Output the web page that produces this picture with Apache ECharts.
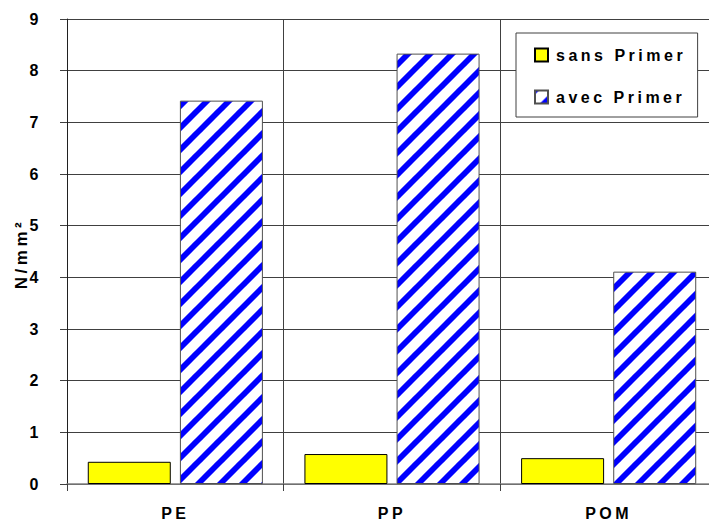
<!DOCTYPE html>
<html>
<head>
<meta charset="utf-8">
<script src="https://cdn.jsdelivr.net/npm/echarts@6/dist/echarts.min.js"></script>
<style>
  html, body { margin: 0; padding: 0; background: #fff; }
  #chart { width: 709px; height: 524px; }
  #chart svg text { letter-spacing: 3.5px; }
</style>
</head>
<body>
<div id="chart"></div>
<script>
const categories = ['PE', 'PP', 'POM'];
const sansPrimer = [0.43, 0.58, 0.50];
const avecPrimer = [7.42, 8.33, 4.11];
const seriesNames = ['sans Primer', 'avec Primer'];
const yAxisName = 'N/mm²';
const yMin = 0, yMax = 9, yInterval = 1;

function makeStripe() {
  const s = 22;
  const c = document.createElement('canvas');
  c.width = s; c.height = s;
  const ctx = c.getContext('2d');
  ctx.fillStyle = '#ffffff';
  ctx.fillRect(0, 0, s, s);
  ctx.strokeStyle = '#0000ff';
  ctx.lineWidth = 5.8;
  for (let k = -1; k <= 1; k++) {
    ctx.beginPath();
    ctx.moveTo(k * s - 2, s + 2);
    ctx.lineTo(k * s + s + 2, -2);
    ctx.stroke();
  }
  return c;
}
const stripe = makeStripe();

const chart = echarts.init(document.getElementById('chart'), null, { renderer: 'svg', width: 709, height: 524 });
const font = '"Liberation Sans", Arial, sans-serif';
chart.setOption({
  animation: false,
  backgroundColor: '#ffffff',
  grid: { left: 67, top: 19, width: 650, bottom: 40, containLabel: false, outerBoundsMode: 'none' },
  legend: {
    orient: 'vertical',
    left: 516, top: 33,
    padding: [14, 50, 12, 18],
    itemWidth: 13, itemHeight: 13,
    itemGap: 26,
    backgroundColor: '#ffffff',
    borderColor: '#404040', borderWidth: 1,
    icon: 'rect',
    textStyle: { fontFamily: font, fontWeight: 'bold', fontSize: 16, color: '#000', padding: [0, 0, 0, 3] },
    data: seriesNames
  },
  xAxis: {
    type: 'category',
    data: categories,
    axisLine: { show: true, lineStyle: { color: '#808080', width: 1.5 } },
    axisTick: { show: true, length: 7, lineStyle: { color: '#404040' } },
    splitLine: { show: true, interval: 0, lineStyle: { color: '#404040', width: 1 } },
    axisLabel: { fontFamily: font, fontWeight: 'bold', fontSize: 16, color: '#000', margin: 21 }
  },
  yAxis: {
    type: 'value',
    min: yMin, max: yMax, interval: yInterval,
    axisLine: { show: true, lineStyle: { color: '#202020', width: 1 } },
    axisTick: { show: true, length: 7, lineStyle: { color: '#404040' } },
    splitLine: { show: true, lineStyle: { color: '#404040', width: 1 } },
    axisLabel: { fontFamily: font, fontWeight: 'bold', fontSize: 16, color: '#000', margin: 25 }
  },
  graphic: [{
    type: 'text',
    x: 21, y: 254,
    rotation: Math.PI / 2,
    style: {
      text: yAxisName,
      font: 'bold 17px ' + font,
      fill: '#000',
      align: 'center',
      verticalAlign: 'middle'
    }
  }],
  series: [
    {
      name: seriesNames[0],
      type: 'bar',
      data: sansPrimer,
      barWidth: 83,
      barGap: '11%',
      itemStyle: { color: '#ffff00', borderColor: '#000000', borderWidth: 1 }
    },
    {
      name: seriesNames[1],
      type: 'bar',
      data: avecPrimer,
      barWidth: 83,
      barGap: '11%',
      itemStyle: { color: { image: stripe, repeat: 'repeat' }, borderColor: '#505050', borderWidth: 1 }
    }
  ]
});
</script>
</body>
</html>
